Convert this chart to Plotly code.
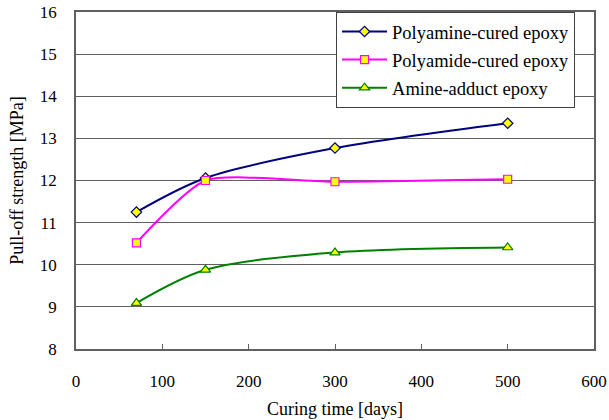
import plotly.graph_objects as go

days = [70, 150, 300, 500]
polyamine = [11.25, 12.06, 12.77, 13.36]
polyamide = [10.52, 12.00, 11.97, 12.03]
amine_adduct = [9.09, 9.88, 10.29, 10.41]
names = ["Polyamine-cured epoxy", "Polyamide-cured epoxy", "Amine-adduct epoxy"]

SERIF = "Liberation Serif"

series = [
    (names[0], polyamine, "#000080", "diamond", 8, 0.9),
    (names[1], polyamide, "#FF00FF", "square", 8, 0.6),
    (names[2], amine_adduct, "#008000", "triangle-up", 9, 0.9),
]

fig = go.Figure()
for i, (name, vals, col, sym, sz, sm) in enumerate(series):
    fig.add_trace(go.Scatter(
        x=days, y=vals, name=name, mode="lines+markers", legendgroup=f"g{i}",
        line=dict(color=col, width=2, shape="spline", smoothing=sm),
        marker=dict(symbol=sym, size=sz, color="#FFFF00", line=dict(color=col, width=1.2)),
    ))

fig.update_layout(
    width=609, height=420,
    margin=dict(l=76, r=15, t=12, b=71),
    paper_bgcolor="white", plot_bgcolor="white",
    font=dict(family=SERIF, size=17, color="black"),
    showlegend=True,
    legend=dict(
        x=0.502, y=1.0, xanchor="left", yanchor="top",
        bordercolor="#404040", borderwidth=1, bgcolor="white",
        font=dict(family=SERIF, size=18.5, color="black"),
        tracegroupgap=1, itemwidth=45,
    ),
    xaxis=dict(
        range=[0, 600], tickvals=[0, 100, 200, 300, 400, 500, 600],
        tickfont=dict(family=SERIF, size=17, color="black"),
        showgrid=False, showline=True, linecolor="#606060", linewidth=1.5,
        mirror=True, ticks="inside", ticklen=5, tickcolor="#606060",
        ticklabelstandoff=16,
        title=dict(text="Curing time [days]", font=dict(family=SERIF, size=18), standoff=12),
        zeroline=False, automargin=False,
    ),
    yaxis=dict(
        range=[8, 16], tickvals=list(range(8, 17)),
        tickfont=dict(family=SERIF, size=17, color="black"),
        showgrid=True, gridcolor="#606060", gridwidth=1,
        showline=True, linecolor="#606060", linewidth=1.5, mirror=True,
        ticks="", ticklabelstandoff=14,
        title=dict(text="Pull-off strength [MPa]", font=dict(family=SERIF, size=18), standoff=12),
        zeroline=False, automargin=False,
    ),
)

fig.write_html("out.html", config={"displayModeBar": False},
               post_script="document.body.style.margin='0';")
